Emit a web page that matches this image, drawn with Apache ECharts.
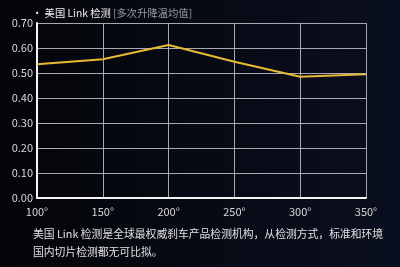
<!DOCTYPE html>
<html><head><meta charset="utf-8">
<script src="https://cdn.jsdelivr.net/npm/echarts@6/dist/echarts.min.js"></script>
<style>html,body{margin:0;padding:0;background:#05060c;}#c{width:400px;height:267px;}</style>
</head><body><div id="c"></div>
<script>
var categories = [100, 150, 200, 250, 300, 350];
var values = [0.535, 0.555, 0.612, 0.545, 0.485, 0.495];
var chart = echarts.init(document.getElementById('c'));
var font = '"Noto Sans CJK SC", "Noto Sans", sans-serif';
chart.setOption({
  backgroundColor: {type:'linear', x:0, y:0, x2:1, y2:0, colorStops:[{offset:0,color:'#040509'},{offset:1,color:'#0a0f1f'}]},
  animation: false,
  title: {
    text: '{w|• 美国 Link 检测 }{g|[多次升降温均值]}',
    left: 27, top: 3,
    textStyle: { fontWeight: 'normal', rich: {
      w: {color:'#f0f0f0', fontSize: 10.3, fontFamily: font, fontWeight: 'normal'},
      g: {color:'#9a9aa0', fontSize: 10.3, fontFamily: font, fontWeight: 'normal'}
    }}
  },
  grid: {left: 37, right: 34, top: 23, bottom: 69},
  xAxis: {
    type: 'value', min: 100, max: 350, interval: 50,
    axisLine: {show: true, lineStyle: {color: '#f4f4f4', width: 2}},
    axisTick: {show: false},
    axisLabel: {color: '#d8d8d8', fontSize: 11, fontFamily: font, margin: 8, formatter: function(v){return v + '°';}},
    splitLine: {show: true, lineStyle: {color: '#a8a8b0', width: 1}}
  },
  yAxis: {
    type: 'value', min: 0, max: 0.7, interval: 0.1,
    axisLine: {show: true, lineStyle: {color: '#f4f4f4', width: 2}},
    axisTick: {show: false},
    axisLabel: {color: '#d8d8d8', fontSize: 11, fontFamily: font, margin: 4, formatter: function(v){return v.toFixed(2);}},
    splitLine: {show: true, lineStyle: {color: '#a8a8b0', width: 1}}
  },
  series: [{
    type: 'line',
    data: categories.map(function(c, i){ return [c, values[i]]; }),
    symbol: 'none',
    lineStyle: {color: '#e9b935', width: 2}
  }],
  graphic: [
    {type: 'text', left: 33, top: 229, style: {text: '美国 Link 检测是全球最权威刹车产品检测机构，从检测方式，标准和环境', fill: '#e0e0e0', fontSize: 10.8, fontFamily: font}},
    {type: 'text', left: 33, top: 247, style: {text: '国内切片检测都无可比拟。', fill: '#e0e0e0', fontSize: 10.8, fontFamily: font}}
  ]
});
</script></body></html>
